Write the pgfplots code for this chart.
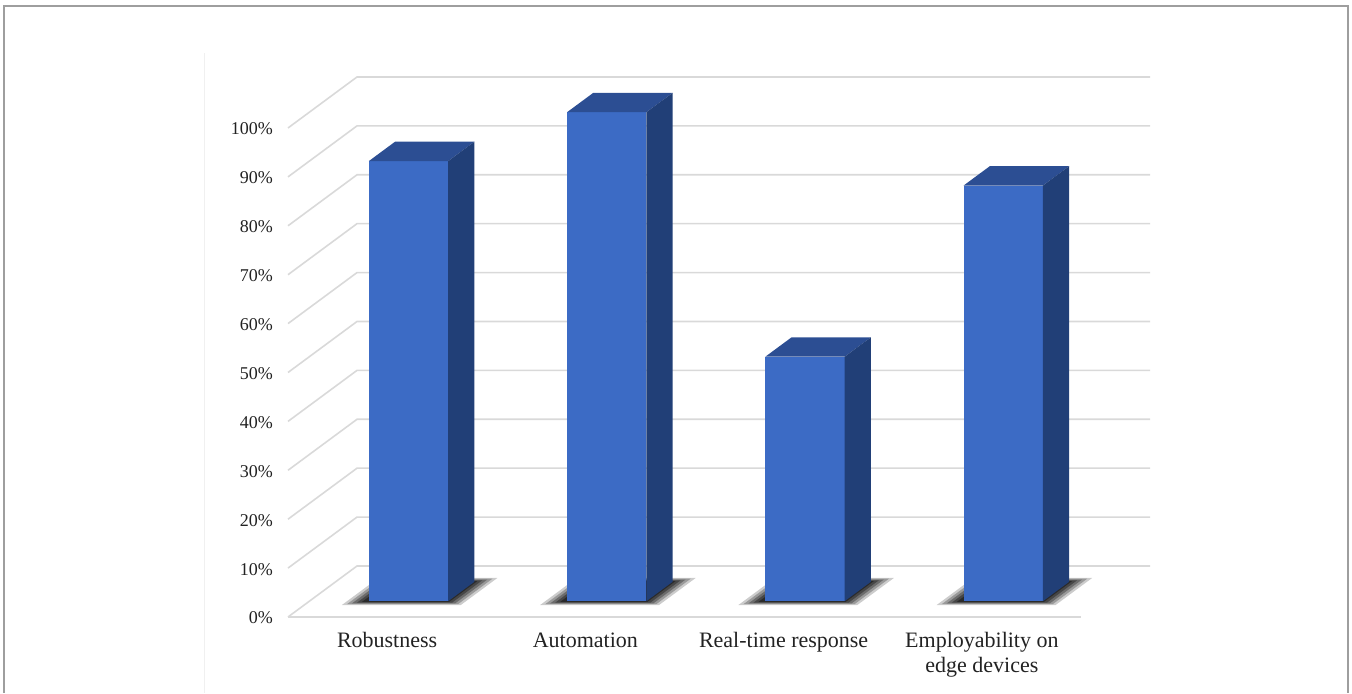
\documentclass[border=0pt]{standalone}
\usepackage{pgfplots}
\pgfplotsset{compat=1.18}
\usepackage{pgfplotstable}
\usepackage{fontspec}
\setmainfont{Liberation Serif}
\definecolor{barfront}{HTML}{3C6BC5}
\definecolor{bartop}{HTML}{2C4E93}
\definecolor{barside}{HTML}{213F77}
\definecolor{gridc}{HTML}{D9D9D9}
\definecolor{txt}{HTML}{222222}

% chart values (percent)
\pgfplotstableread{
c v
0 90
1 100
2 50
3 85
}\datatable

% unit square used to build the faces of each 3D bar
\pgfplotstableread{
u w
0 0
1 0
1 1
0 1
}\unitsq

% one gridline: left wall diagonal + back wall horizontal
\pgfplotstableread{
x y
-0.5 0
-0.152 10.43
3.848 10.43
}\gridpath

\newcommand\shadowlayer[4]{%
 \addplot[draw=none, fill=black, fill opacity=#4] table[
   x expr={#1-0.01-(0.2+#2)+(0.4+2*#2)*\thisrow{u}+0.348*((0.31-#3)+(0.38+2*#3)*\thisrow{w})},
   y expr={10.43*((0.31-#3)+(0.38+2*#3)*\thisrow{w})}] {\unitsq};}

\newcommand\barfaces[2]{%
 \addplot[draw=none, fill=barfront] table[
   x expr={#1-0.2+0.4*\thisrow{u}+0.10788},
   y expr={3.2333+#2*\thisrow{w}}] {\unitsq};
 \addplot[draw=none, fill=bartop] table[
   x expr={#1-0.2+0.4*\thisrow{u}+0.348*(0.31+0.38*\thisrow{w})},
   y expr={#2+10.43*(0.31+0.38*\thisrow{w})}] {\unitsq};
 \addplot[draw=none, fill=barside] table[
   x expr={#1+0.2+0.348*(0.31+0.38*\thisrow{u})},
   y expr={10.43*(0.31+0.38*\thisrow{u})+#2*\thisrow{w}}] {\unitsq};
}

\begin{document}
\begin{tikzpicture}
\path (0,0) rectangle (676pt,346.5pt);
\draw[color=black!38, line width=1pt] (2pt,0) -- (2pt,343.5pt) -- (674pt,343.5pt) -- (674pt,0);
\draw[color=black!6, line width=0.5pt] (102pt,0) -- (102pt,320pt);
\begin{axis}[
  at={(144pt,38pt)}, anchor=south west,
  x=99.125pt, y=2.445pt,
  xmin=-0.5, xmax=3.848, ymin=0, ymax=110.43,
  axis line style={draw=none}, tick style={draw=none}, major tick length=0pt,
  clip=false, no markers,
  typeset ticklabels with strut,
  xtick={0,1,2,3},
  xticklabels={Robustness,Automation,Real-time response,{Employability on\\edge devices}},
  xticklabel style={font=\fontsize{11}{12.5}\selectfont, align=center, text=txt, yshift=-3pt},
  ytick={0,10,...,100},
  yticklabels={0\%,10\%,20\%,30\%,40\%,50\%,60\%,70\%,80\%,90\%,100\%},
  yticklabel style={font=\fontsize{9}{10}\selectfont, text=txt, xshift=-4pt, yshift=-1.5pt},
]
% gridlines
\pgfplotsinvokeforeach{0,10,...,100}{
  \addplot[color=gridc, line width=0.8pt] table[x=x, y expr={\thisrow{y}+#1}] {\gridpath};
}
\addplot[color=gridc, line width=0.8pt] coordinates {(-0.5,0) (3.5,0)};
% soft shadows on the floor
\pgfplotsinvokeforeach{0,1,2,3}{
  \shadowlayer{#1}{0.10}{0.075}{0.2}
  \shadowlayer{#1}{0.08}{0.06}{0.25}
  \shadowlayer{#1}{0.06}{0.045}{0.3}
  \shadowlayer{#1}{0.04}{0.03}{0.35}
  \shadowlayer{#1}{0.02}{0.015}{0.4}
}
% bars
\pgfplotsinvokeforeach{0,1,2,3}{
  \pgfplotstablegetelem{#1}{v}\of\datatable
  \let\barv\pgfplotsretval
  \barfaces{#1}{\barv}
}
\end{axis}
\end{tikzpicture}
\end{document}
